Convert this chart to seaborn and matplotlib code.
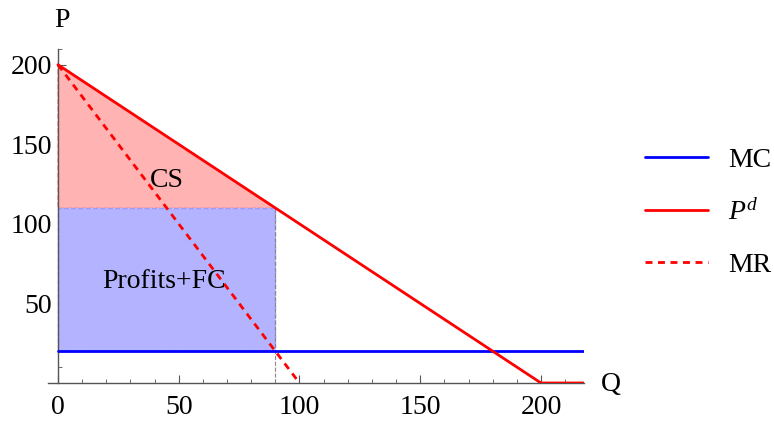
import numpy as np
import matplotlib
matplotlib.use("Agg")
import matplotlib.pyplot as plt
import seaborn as sns
from matplotlib.ticker import MultipleLocator

# demand, marginal revenue and marginal cost
demand_q = [0, 200, 218]
demand_p = [200, 0, 0]
mr_q = [0, 100]
mr_p = [200, 0]
mc_q = [0, 218]
mc_p = [20, 20]

# monopoly outcome
q_m = 90
p_m = 110
mc_level = 20
p_max = 200

x_ticks = [0, 50, 100, 150, 200]
y_ticks = [50, 100, 150, 200]

sns.set_style("white")
plt.rcParams['font.family'] = ['Liberation Serif', 'DejaVu Serif']
plt.rcParams['mathtext.fontset'] = 'custom'
plt.rcParams['mathtext.it'] = 'Liberation Serif:italic'
plt.rcParams['mathtext.rm'] = 'Liberation Serif'
plt.rcParams['text.color'] = 'black'
plt.rcParams['xtick.color'] = 'black'
plt.rcParams['ytick.color'] = 'black'

fig = plt.figure(figsize=(7.74, 4.23), dpi=100)
ax = fig.add_axes([0.0624, 0.0946, 0.6927, 0.79])

# shaded areas
ax.fill([0, q_m, 0], [p_max, p_m, p_m], color='#ffb3b3', edgecolor='#ff9999',
        linestyle='--', linewidth=1, zorder=1)
ax.fill([0, q_m, q_m, 0], [mc_level, mc_level, p_m, p_m], color='#b3b3ff',
        edgecolor='#9999ff', linestyle='--', linewidth=1, zorder=1)
ax.plot([q_m, q_m], [0, p_m], color='#888888', linestyle='--', linewidth=0.8, zorder=2)

sns.lineplot(x=mc_q, y=mc_p, ax=ax, color='#0000ff', linewidth=2, label='MC', zorder=3)
sns.lineplot(x=demand_q, y=demand_p, ax=ax, color='#ff0000', linewidth=2,
             label='$P^d$', zorder=3, sort=False)
sns.lineplot(x=mr_q, y=mr_p, ax=ax, color='#ff0000', linewidth=2, linestyle=(0, (2.5, 2)),
             label='MR', zorder=3)

ax.text(45, 127, 'CS', fontsize=20, ha='center', va='center')
ax.text(44, 64, 'Profits+FC', fontsize=20, ha='center', va='center')

ax.set_xlim(-4, 218)
ax.set_ylim(0, 210)
ax.spines['left'].set_position(('data', 0))
ax.spines['right'].set_visible(False)
ax.spines['top'].set_visible(False)
for s in ['left', 'bottom']:
    ax.spines[s].set_color('#555555')
    ax.spines[s].set_linewidth(1)
ax.set_xticks(x_ticks)
ax.set_yticks(y_ticks)
ax.xaxis.set_minor_locator(MultipleLocator(10))
ax.yaxis.set_minor_locator(MultipleLocator(10))
ax.tick_params(which='major', direction='in', length=6, width=0.8, color='#555555',
               labelsize=20, labelcolor='black', bottom=True, left=True)
ax.tick_params(which='minor', direction='in', length=3, width=0.6, color='#555555',
               bottom=True, left=True)
ax.tick_params(axis='x', which='major', pad=9)
ax.tick_params(axis='y', which='major', pad=4)

ax.text(1.5, 228, 'P', fontsize=20, ha='center', va='center', clip_on=False)
ax.text(225, -1, 'Q', fontsize=20, ha='left', va='center', clip_on=False)
ax.set_xlabel('')
ax.set_ylabel('')

ax.legend(loc='center left', bbox_to_anchor=(0.801, 0.497), bbox_transform=fig.transFigure,
          frameon=False, fontsize=20, handlelength=2.27, labelspacing=0.95, handletextpad=0.72)

fig.savefig('out.png', dpi=100)
